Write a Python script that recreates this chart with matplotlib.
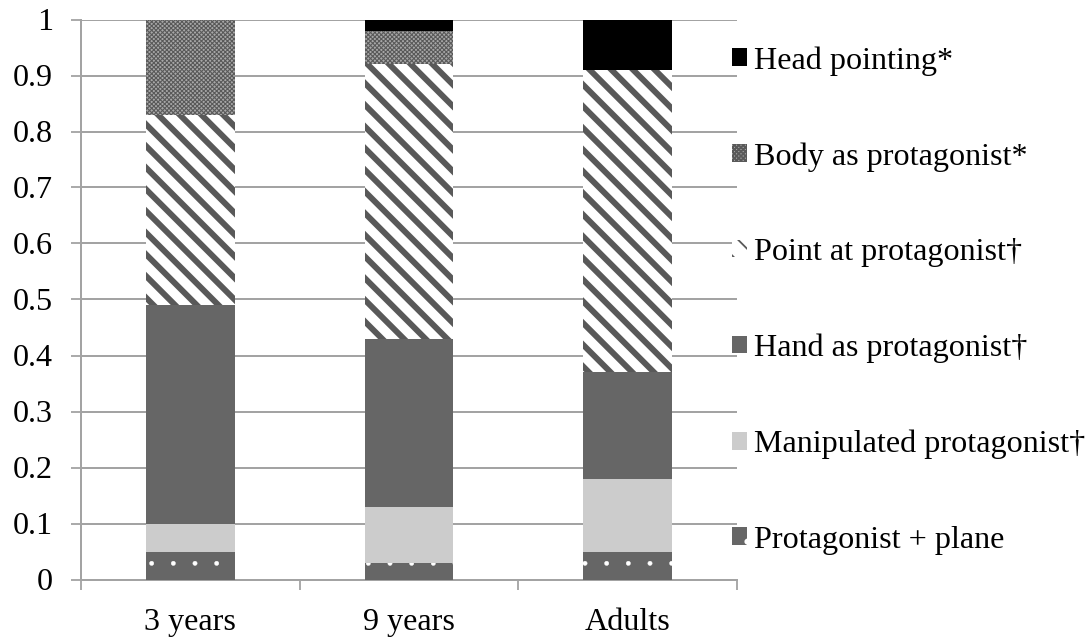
import matplotlib
matplotlib.use("Agg")
import matplotlib.pyplot as plt
from matplotlib.patches import Patch
from matplotlib.ticker import FixedLocator, MultipleLocator, FuncFormatter
import numpy as np

categories = ["3 years", "9 years", "Adults"]
series_names = ["Protagonist + plane", "Manipulated protagonist\u2020",
                "Hand as protagonist\u2020", "Point at protagonist\u2020",
                "Body as protagonist*", "Head pointing*"]
plane = [0.05, 0.03, 0.05]
manipulated = [0.05, 0.10, 0.13]
hand = [0.39, 0.30, 0.19]
point = [0.34, 0.49, 0.54]
body = [0.17, 0.06, 0.00]
head = [0.00, 0.02, 0.09]
values = [plane, manipulated, hand, point, body, head]

# styles: (facecolor, hatch, hatchcolor, hatch linewidth)
styles = [
    ("#666666", ".", "white", 0.2),
    ("#cccccc", None, "#cccccc", 1.0),
    ("#666666", None, "#666666", 1.0),
    ("white", "\\\\", "#595959", 3.3),
    ("#a8a8a8", "xxxxxxxxxx", "#595959", 0.6),
    ("black", None, "black", 1.0),
]

DPI = 130
plt.rcParams['font.family'] = ['Liberation Serif', 'DejaVu Serif']
plt.rcParams['font.size'] = 17.8

fig = plt.figure(figsize=(1089 / DPI, 642 / DPI), dpi=DPI)
ax = fig.add_axes([81 / 1089, 1 - 579.5 / 642, (737 - 81) / 1089, (579.5 - 19.5) / 642])

x = np.arange(len(categories))
bottom = np.zeros(len(categories))
handles = []
for name, vals, (fc, hatch, hc, hlw) in zip(series_names, values, styles):
    plt.rcParams['hatch.linewidth'] = hlw
    bars = ax.bar(x, vals, width=0.405, bottom=bottom, facecolor=fc,
                  edgecolor=hc, hatch=hatch, linewidth=0, zorder=3)
    for b in bars:
        if hasattr(b, "set_hatch_linewidth"):
            b.set_hatch_linewidth(hlw)
    bottom = bottom + np.array(vals)
    h = Patch(facecolor=fc, edgecolor=hc, hatch=hatch, linewidth=0)
    if hasattr(h, "set_hatch_linewidth"):
        h.set_hatch_linewidth(hlw)
    handles.append(h)

gray = "#a3a3a3"
ax.set_xlim(-0.5, 2.5)
ax.set_ylim(0, 1)
ax.yaxis.set_major_locator(MultipleLocator(0.1))
ax.yaxis.set_major_formatter(FuncFormatter(lambda v, p: "0" if abs(v) < 1e-9 else ("1" if abs(v - 1) < 1e-9 else f"{v:.1f}")))
ax.set_xticks(x)
ax.set_xticklabels(categories)
ax.xaxis.set_minor_locator(FixedLocator([-0.5, 0.5, 1.5, 2.5]))
ax.tick_params(axis='x', which='major', length=0, pad=16)
ax.tick_params(axis='x', which='minor', length=5.5, width=1.0, color=gray, direction='out')
ax.tick_params(axis='y', which='major', length=5.5, width=1.0, color=gray, direction='out', pad=10)
ax.grid(axis='y', color=gray, linewidth=1.1, zorder=0)
ax.set_axisbelow(True)
for s in ['top', 'right']:
    ax.spines[s].set_visible(False)
for s in ['left', 'bottom']:
    ax.spines[s].set_color(gray)
    ax.spines[s].set_linewidth(1.1)

leg = fig.legend(handles[::-1], series_names[::-1], loc='upper left',
                 bbox_to_anchor=(732 / 1089, 1 - 46 / 642), frameon=False,
                 handlelength=0.47, handleheight=0.47, handletextpad=0.22,
                 labelspacing=2.07, borderaxespad=0, borderpad=0)

fig.savefig("out.png", dpi=DPI)
